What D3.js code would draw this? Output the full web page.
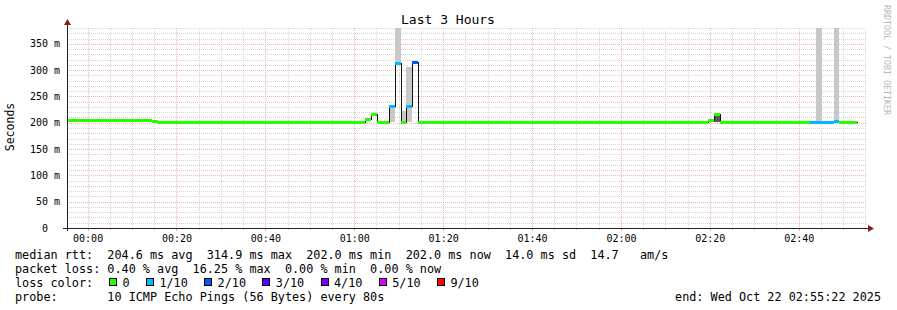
<!DOCTYPE html>
<html>
<head>
<meta charset="utf-8">
<script src="https://cdn.jsdelivr.net/npm/d3@7"></script>
<style>
  body { margin: 0; background: #fff; }
  svg text { font-family: "DejaVu Sans Mono", monospace; white-space: pre; }
</style>
</head>
<body>
<div id="chart"></div>
<script>
// samples, 80s apart where the value changes; each one lasts until the next start
const sampleTimes = ["2025-10-21 23:55:22", "2025-10-22 00:14:30", "2025-10-22 00:15:50",
    "2025-10-22 01:02:25", "2025-10-22 01:03:45", "2025-10-22 01:05:05", "2025-10-22 01:07:45",
    "2025-10-22 01:09:05", "2025-10-22 01:10:25", "2025-10-22 01:11:45", "2025-10-22 01:13:05",
    "2025-10-22 01:14:25", "2025-10-22 02:19:35", "2025-10-22 02:20:55", "2025-10-22 02:22:15",
    "2025-10-22 02:42:30", "2025-10-22 02:43:50", "2025-10-22 02:45:10", "2025-10-22 02:47:50",
    "2025-10-22 02:49:10"];
const lastSampleEnd = "2025-10-22 02:53:05";
const medians = [205, 203.5, 202, 207, 217, 202, 232, 313, 202, 232, 316, 202, 206, 216, 202, 202, 202, 202, 204, 202];
const lossCounts = [0, 0, 0, 0, 0, 0, 1, 1, 0, 1, 2, 0, 0, 0, 0, 1, 1, 1, 1, 0];
const smokeLow = [null, null, null, null, null, null, 202, 313, 202, 202, null, null, null, 202, null, null, 202, null, 204, null];
const smokeHigh = [null, null, null, null, null, null, 232, 400, 222, 305, null, null, null, 218, null, null, 400, null, 400, null];
const smokeDensity = [0, 0, 0, 0, 0, 0, 1, 1, 1, 1, 0, 0, 0, 3, 0, 0, 1, 0, 1, 0];

const lossLabels = ["0", "1/10", "2/10", "3/10", "4/10", "5/10", "9/10"];
const lossColors = ["#26ff00", "#00b8ff", "#0059ff", "#5e00ff", "#7e00ff", "#dd00ff", "#ff0000"];
const yTickValues = [0, 50, 100, 150, 200, 250, 300, 350];

const statLines = [
    "median rtt:  204.6 ms avg  314.9 ms max  202.0 ms min  202.0 ms now  14.0 ms sd  14.7   am/s",
    "packet loss: 0.40 % avg  16.25 % max  0.00 % min  0.00 % now"
];
const probeLine = "probe:       10 ICMP Echo Pings (56 Bytes) every 80s";
const endLine = "end: Wed Oct 22 02:55:22 2025";
const title = "Last 3 Hours";
const startTime = "2025-10-21 23:55:22", endTime = "2025-10-22 02:55:22";

const width = 897,
    height = 310,
    margin = ({ top: 28, right: 30, bottom: 82, left: 67 });

const parse = d3.timeParse("%Y-%m-%d %H:%M:%S");

let samples = sampleTimes.map((t, i) => ({
    t0: parse(t),
    t1: parse(i + 1 < sampleTimes.length ? sampleTimes[i + 1] : lastSampleEnd),
    median: medians[i],
    loss: lossCounts[i],
    lo: smokeLow[i],
    hi: smokeHigh[i],
    dens: smokeDensity[i]
}));

let svg = d3.select("#chart")
    .append("svg")
    .attr("width", width)
    .attr("height", height)
    .attr("viewBox", [0, 0, width, height]);

const x = d3.scaleTime()
    .domain([parse(startTime), parse(endTime)])
    .range([margin.left, width - margin.right]);

const y = d3.scaleLinear()
    .domain([0, 380])
    .range([height - margin.bottom, margin.top]);

const x0 = margin.left, x1 = width - margin.right;
const yb = height - margin.bottom, yt = margin.top;

// grid
const minorY = d3.range(10, 381, 10).filter(v => v % 50 !== 0);
const minorX = d3.timeMinute.every(5).range(x.domain()[0], x.domain()[1]).filter(d => d.getMinutes() % 20 !== 0);
const majorX = d3.timeMinute.every(20).range(x.domain()[0], x.domain()[1]);

let grid = svg.append("g").attr("shape-rendering", "crispEdges").attr("stroke-dasharray", "1,1");

grid.selectAll(".gy").data(minorY).join("line")
    .attr("x1", x0).attr("x2", x1)
    .attr("y1", d => Math.round(y(d)) + 0.5).attr("y2", d => Math.round(y(d)) + 0.5)
    .attr("stroke", "#d6d6d6");
grid.selectAll(".gx").data(minorX).join("line")
    .attr("x1", d => Math.round(x(d)) + 0.5).attr("x2", d => Math.round(x(d)) + 0.5)
    .attr("y1", yt).attr("y2", yb)
    .attr("stroke", "#d6d6d6");
grid.selectAll(".my").data(yTickValues.filter(v => v > 0)).join("line")
    .attr("x1", x0).attr("x2", x1)
    .attr("y1", d => Math.round(y(d)) + 0.5).attr("y2", d => Math.round(y(d)) + 0.5)
    .attr("stroke", "#f4b4b4");
grid.selectAll(".mx").data(majorX).join("line")
    .attr("x1", d => Math.round(x(d)) + 0.5).attr("x2", d => Math.round(x(d)) + 0.5)
    .attr("y1", yt).attr("y2", yb)
    .attr("stroke", "#f4b4b4");

// smoke, median line, loss coloured band
let plot = svg.append("g").attr("shape-rendering", "crispEdges");

svg.append("clipPath").attr("id", "clip")
    .append("rect").attr("x", x0).attr("y", yt).attr("width", x1 - x0).attr("height", yb - yt);
plot.attr("clip-path", "url(#clip)");

const smokeColor = d => d >= 3 ? "#585858" : "#c8c8c8";

plot.selectAll(".smoke").data(samples.filter(d => d.lo !== null)).join("rect")
    .attr("x", d => Math.round(x(d.t0)))
    .attr("width", d => Math.round(x(d.t1)) - Math.round(x(d.t0)))
    .attr("y", d => Math.round(y(d.hi)))
    .attr("height", d => Math.round(y(d.lo)) - Math.round(y(d.hi)))
    .attr("fill", d => smokeColor(d.dens));

const linePts = samples.map(d => [d.t0, d.median]);
linePts.push([samples[samples.length - 1].t1, samples[samples.length - 1].median]);

plot.append("path")
    .datum(linePts)
    .attr("fill", "none")
    .attr("stroke", "#111")
    .attr("stroke-width", 1)
    .attr("d", d3.line().curve(d3.curveStepAfter)
        .x(d => Math.round(x(d[0])) + 0.5)
        .y(d => Math.round(y(d[1])) + 0.5));

const lossIndex = n => n >= 9 ? 6 : Math.min(n, 5);

plot.selectAll(".band").data(samples).join("rect")
    .attr("x", d => Math.round(x(d.t0)))
    .attr("width", d => Math.round(x(d.t1)) - Math.round(x(d.t0)))
    .attr("y", d => Math.round(y(d.median)) - 1)
    .attr("height", 3)
    .attr("fill", d => lossColors[lossIndex(d.loss)]);

// axes
const xAxis = (g) => g
    .attr("transform", `translate(0, ${yb})`)
    .call(d3.axisBottom(x).tickValues(majorX).tickFormat(d3.timeFormat("%H:%M")).tickSize(0).tickPadding(7))
    .call(g => g.select(".domain").remove())
    .call(g => g.selectAll("text").attr("font-size", 10).attr("font-family", "DejaVu Sans Mono").attr("fill", "#000"));

const yAxis = (g) => g
    .attr("transform", `translate(${x0 - 7}, 0)`)
    .call(d3.axisLeft(y).tickValues(yTickValues).tickFormat(d => d === 0 ? "0  " : d + " m").tickSize(0).tickPadding(0))
    .call(g => g.select(".domain").remove())
    .call(g => g.selectAll("text").attr("font-size", 10).attr("font-family", "DejaVu Sans Mono").attr("fill", "#000"));

svg.append("g").call(xAxis);
svg.append("g").call(yAxis);

let ticks = svg.append("g").attr("shape-rendering", "crispEdges");
ticks.selectAll(".tmx").data(minorX).join("line")
    .attr("x1", d => Math.round(x(d)) + 0.5).attr("x2", d => Math.round(x(d)) + 0.5)
    .attr("y1", yb).attr("y2", yb + 2).attr("stroke", "#c8c8c8");
ticks.selectAll(".tMx").data(majorX).join("line")
    .attr("x1", d => Math.round(x(d)) + 0.5).attr("x2", d => Math.round(x(d)) + 0.5)
    .attr("y1", yb).attr("y2", yb + 3).attr("stroke", "#f0a0a0");

ticks.append("line")
    .attr("x1", x0 - 4).attr("x2", x1 + 2)
    .attr("y1", yb + 0.5).attr("y2", yb + 0.5)
    .attr("stroke", "#222");
ticks.append("line")
    .attr("x1", x0 + 0.5).attr("x2", x0 + 0.5)
    .attr("y1", yb + 3).attr("y2", yt - 4)
    .attr("stroke", "#222");

svg.append("path")
    .attr("d", `M${x1 + 1},${yb - 3}L${x1 + 7},${yb + 0.5}L${x1 + 1},${yb + 4}Z`)
    .attr("fill", "#8b1a1a");
svg.append("path")
    .attr("d", `M${x0 - 3},${yt - 3}L${x0 + 0.5},${yt - 9}L${x0 + 4},${yt - 3}Z`)
    .attr("fill", "#8b1a1a");

// titles
svg.append("text")
    .text(title)
    .attr("x", 448).attr("y", 24)
    .attr("text-anchor", "middle")
    .attr("font-size", 13);

svg.append("text")
    .text("Seconds")
    .attr("transform", "translate(14, 127) rotate(-90)")
    .attr("text-anchor", "middle")
    .attr("font-size", 11.5);

svg.append("text")
    .text("RRDTOOL / TOBI OETIKER")
    .attr("transform", "translate(884, 5) rotate(90)")
    .attr("font-size", 8.3)
    .attr("fill", "#b8b8b8");

// legend
const lx = 15, lw = 7.1, fs = 11.8;

statLines.forEach((s, i) => {
    svg.append("text")
        .attr("xml:space", "preserve")
        .text(s)
        .attr("x", lx).attr("y", 258.5 + i * 14)
        .attr("font-size", fs);
});

svg.append("text")
    .text("loss color:")
    .attr("x", lx).attr("y", 286.5)
    .attr("font-size", fs);

let bx = 109;
lossLabels.forEach((lab, i) => {
    svg.append("rect")
        .attr("x", bx + 0.5).attr("y", 278.5)
        .attr("width", 7).attr("height", 7)
        .attr("fill", lossColors[i])
        .attr("stroke", "#000")
        .attr("shape-rendering", "crispEdges");
    svg.append("text")
        .text(lab)
        .attr("x", bx + 13.5).attr("y", 286.5)
        .attr("font-size", fs);
    bx += 13.5 + lab.length * lw + 16.3;
});

svg.append("text")
    .attr("xml:space", "preserve")
    .text(probeLine)
    .attr("x", lx).attr("y", 300.5)
    .attr("font-size", fs);

svg.append("text")
    .text(endLine)
    .attr("x", 881).attr("y", 300.5)
    .attr("text-anchor", "end")
    .attr("font-size", fs);
</script>
</body>
</html>
